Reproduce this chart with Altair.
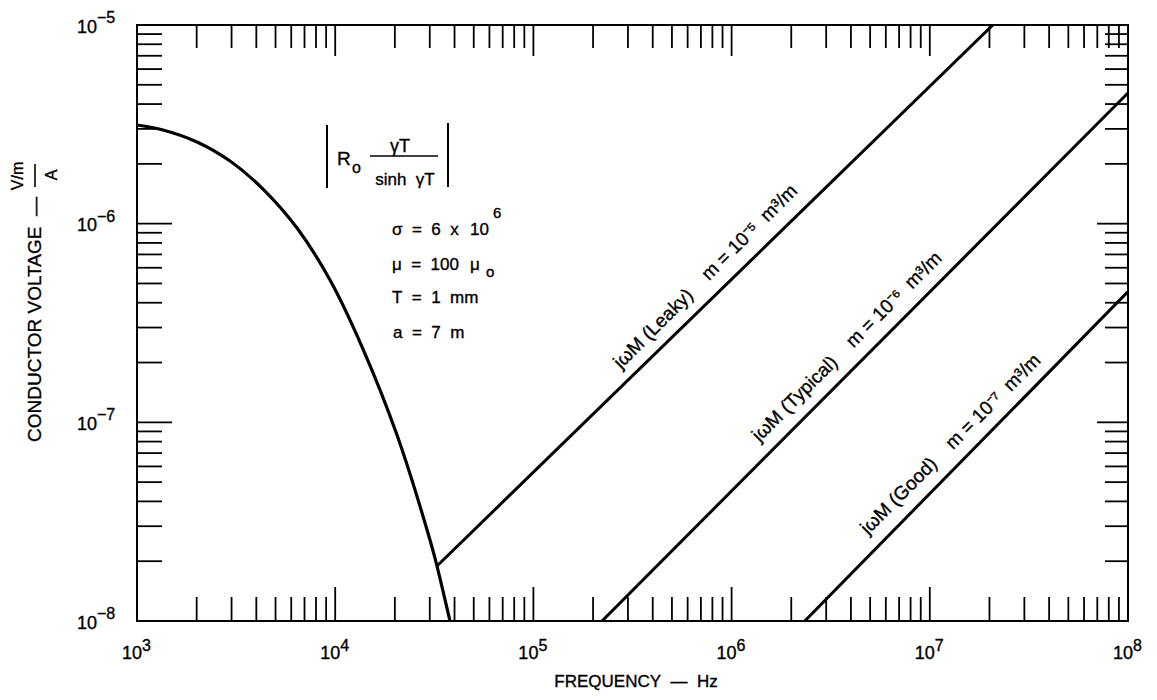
import altair as alt
import pandas as pd

# ---------------- data ----------------
curve_f = [1000, 1353, 2008, 2946, 4323, 6417, 9415, 13812, 20505, 30085, 32624, 37951]
curve_v = [3.139e-6, 2.961e-6, 2.577e-6, 2.067e-6, 1.494e-6, 9.51e-7, 5.205e-7, 2.339e-7,
           8.634e-8, 2.557e-8, 1.891e-8, 1.0e-8]

line_names = ["Leaky", "Typical", "Good"]
line_f_start = [32624, 222000, 2340000]
line_v_start = [1.891e-8, 1.0e-8, 1.0e-8]
line_f_end = [2.08e7, 1e8, 1e8]
line_v_end = [1e-5, 4.55e-6, 4.55e-7]

NB = "\u00a0"
line_labels = [
    f"jωM{NB}(Leaky){NB*4}m{NB}={NB}10⁻⁵{NB*2}m³/m",
    f"jωM{NB}(Typical){NB*4}m{NB}={NB}10⁻⁶{NB*2}m³/m",
    f"jωM{NB}(Good){NB*4}m{NB}={NB}10⁻⁷{NB*2}m³/m",
]
label_f = [8.7e5, 4.5e6, 1.5e7]
label_v = [4.6e-7, 2.04e-7, 6.59e-8]

x_decades = [1e3, 1e4, 1e5, 1e6, 1e7, 1e8]
x_exps = ["3", "4", "5", "6", "7", "8"]
y_decades = [1e-8, 1e-7, 1e-6, 1e-5]
y_exps = ["−8", "−7", "−6", "−5"]
minor_mult = [2, 3, 4, 5, 6, 7, 8, 9]

# ---------------- layout ----------------
W, H = 991, 596
FONT = "Liberation Sans"
SW = 0.35  # slight text stroke to mimic the heavier print
xs = alt.Scale(type="log", domain=[1e3, 1e8], nice=False)
ys = alt.Scale(type="log", domain=[1e-8, 1e-5], nice=False)


def X(field):
    return alt.X(f"{field}:Q", scale=xs, axis=None)


def Y(field):
    return alt.Y(f"{field}:Q", scale=ys, axis=None)


one = pd.DataFrame({"a": [0]})


def tstyle(size, align, baseline, **extra):
    d = dict(font=FONT, fontSize=size, align=align, baseline=baseline, color="black",
             stroke="black", strokeWidth=SW)
    d.update(extra)
    return d


def txt(text, x, y, size=17, align="left", baseline="alphabetic", angle=None):
    kw = tstyle(size, align, baseline)
    if angle is not None:
        kw["angle"] = angle
    return alt.Chart(one).mark_text(**kw).encode(
        x=alt.value(x), y=alt.value(y), text=alt.value(text))


def vrule(x, y1, y2, w=2):
    return alt.Chart(one).mark_rule(color="black", strokeWidth=w).encode(
        x=alt.value(x), y=alt.value(y1), y2=alt.value(y2))


def hrule(x1, x2, y, w=1.6):
    return alt.Chart(one).mark_rule(color="black", strokeWidth=w).encode(
        x=alt.value(x1), x2=alt.value(x2), y=alt.value(y))


# ---------------- ticks ----------------
xminor = [d * m for d in x_decades[:-1] for m in minor_mult]
xmajor = x_decades[1:-1]
yminor = [d * m for d in y_decades[:-1] for m in minor_mult]
ymajor = y_decades[1:-1]

TW = 1.8


def xticks(vals, y0, y1):
    return alt.Chart(pd.DataFrame({"f": vals})).mark_rule(color="black", strokeWidth=TW).encode(
        x=X("f"), y=alt.value(y0), y2=alt.value(y1))


def yticks(vals, x0, x1):
    return alt.Chart(pd.DataFrame({"v": vals})).mark_rule(color="black", strokeWidth=TW).encode(
        y=Y("v"), x=alt.value(x0), x2=alt.value(x1))


ticks = [
    xticks(xminor, H, H - 24), xticks(xmajor, H, H - 34),
    xticks(xminor, 0, 23), xticks(xmajor, 0, 31),
    yticks(yminor, 0, 25), yticks(ymajor, 0, 35),
    yticks(yminor, W, W - 23), yticks(ymajor, W, W - 31),
]

# ---------------- tick labels ----------------
xl = pd.DataFrame({"f": x_decades, "e": x_exps})
yl = pd.DataFrame({"v": y_decades, "e": y_exps})

x_base = alt.Chart(xl).mark_text(**tstyle(18, "right", "middle", dx=5)).encode(
    x=X("f"), y=alt.value(H + 33), text=alt.value("10"))
x_exp = alt.Chart(xl).mark_text(**tstyle(16, "left", "middle", dx=5)).encode(
    x=X("f"), y=alt.value(H + 25), text="e:N")
y_base = alt.Chart(yl).mark_text(**tstyle(18, "right", "middle", dy=2.5)).encode(
    y=Y("v"), x=alt.value(-40), text=alt.value("10"))
y_exp = alt.Chart(yl).mark_text(**tstyle(16, "left", "middle", dy=-7)).encode(
    y=Y("v"), x=alt.value(-40), text="e:N")

# ---------------- data marks ----------------
curve = alt.Chart(pd.DataFrame({"f": curve_f, "v": curve_v})).mark_line(
    color="black", strokeWidth=3.2, interpolate="catmull-rom", clip=True).encode(x=X("f"), y=Y("v"))

rows = []
for n, f0, v0, f1, v1 in zip(line_names, line_f_start, line_v_start, line_f_end, line_v_end):
    rows.append({"name": n, "f": f0, "v": v0})
    rows.append({"name": n, "f": f1, "v": v1})
lines = alt.Chart(pd.DataFrame(rows)).mark_line(color="black", strokeWidth=3, clip=True).encode(
    x=X("f"), y=Y("v"), detail="name:N")

labels = alt.Chart(pd.DataFrame({"f": label_f, "v": label_v, "t": line_labels})).mark_text(
    **tstyle(19, "center", "middle", angle=315, dy=-20)).encode(
    x=X("f"), y=Y("v"), text="t:N")

# ---------------- annotations ----------------
annots = [
    # y axis title with fraction
    txt(f"CONDUCTOR{NB}VOLTAGE{NB}{NB}—", -102, 172, size=19, align="right", baseline="middle", angle=270),
    txt("V/m", -119, 151, size=16, align="center", baseline="middle", angle=270),
    vrule(-102, 139, 162, w=1.6),
    txt("A", -85, 150, size=16, align="center", baseline="middle", angle=270),
    # x axis title
    txt(f"FREQUENCY{NB}{NB}—{NB}{NB}Hz", 499, 657, size=17, align="center", baseline="middle"),
    # formula box
    vrule(190, 100, 163),
    vrule(311, 98, 162),
    txt("R", 200, 140, size=19),
    txt("o", 215, 148, size=16),
    txt("γT", 263, 127, size=18, align="center"),
    hrule(233, 301, 131),
    txt(f"sinh{NB}{NB}γT", 268, 160, size=17, align="center"),
    # parameters
    txt(f"σ{NB}{NB}={NB}{NB}6{NB}{NB}x", 255, 210, size=17),
    txt("10", 333, 210, size=17),
    txt("6", 356, 193, size=15),
    txt(f"μ{NB}{NB}={NB}{NB}100", 255, 245, size=17),
    txt("μ", 333, 245, size=17),
    txt("o", 349, 252, size=15),
    txt(f"T{NB}{NB}={NB}{NB}1{NB}{NB}mm", 255, 278, size=17),
    txt(f"a{NB}{NB}={NB}{NB}7{NB}{NB}m", 256, 313, size=17),
]

chart = alt.layer(
    *ticks, curve, lines, labels, x_base, x_exp, y_base, y_exp, *annots
).properties(
    width=W, height=H,
    autosize=alt.AutoSizeParams(type="none"),
    padding={"left": 129, "top": 17, "right": 20, "bottom": 70},
    background="white",
).configure_view(stroke="black", strokeWidth=2)

chart.save("out.html", embed_options={"renderer": "svg", "actions": False})
